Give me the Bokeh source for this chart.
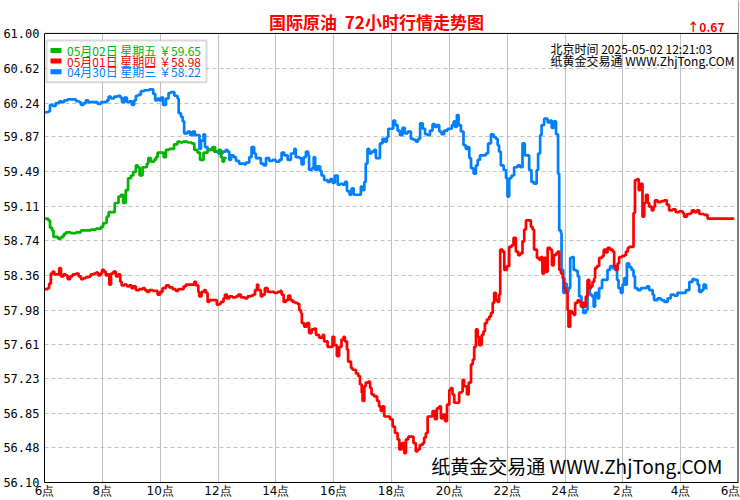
from bokeh.plotting import figure
from bokeh.models import FixedTicker, Label, BoxAnnotation, Range1d, PrintfTickFormatter, Span
from bokeh.embed import file_html
from bokeh.resources import INLINE

# ---------------- data (hours after 06:00, price) ----------------
green_t = [0.00,0.13,0.19,0.26,0.31,0.39,0.47,0.57,0.66,0.74,0.91,1.09,1.26,1.43,1.60,1.78,1.95,2.03,2.15,2.22,
           2.30,2.43,2.56,2.64,2.72,2.81,2.89,2.99,3.07,3.16,3.22,3.29,3.39,3.54,3.59,3.68,3.79,3.85,3.91,4.02,
           4.12,4.20,4.31,4.40,4.48,4.60,4.69,4.78,4.95,5.09,5.18,5.29,5.38,5.50,5.64,5.81,5.90,6.02,6.10,6.16,
           6.21,6.27]
green_p = [58.98,58.96,58.88,58.85,58.78,58.78,58.76,58.78,58.81,58.83,58.82,58.83,58.85,58.85,58.86,58.87,58.89,58.93,59.00,59.05,
           59.05,59.15,59.22,59.24,59.15,59.29,59.42,59.45,59.49,59.56,59.54,59.45,59.54,59.58,59.64,59.60,59.62,59.65,59.70,59.70,
           59.65,59.73,59.74,59.74,59.79,59.82,59.81,59.82,59.81,59.80,59.73,59.70,59.62,59.70,59.73,59.76,59.71,59.73,59.65,59.60,
           59.64,59.65]

red_t = [0.00,0.11,0.16,0.22,0.28,0.34,0.43,0.51,0.57,0.66,
         0.74,0.80,0.89,0.97,1.09,1.18,1.26,1.35,1.43,1.55,
         1.60,1.70,1.78,1.86,1.93,1.99,2.06,2.12,2.18,2.24,
         2.30,2.38,2.47,2.55,2.62,2.67,2.76,2.85,2.93,3.01,
         3.08,3.16,3.27,3.39,3.47,3.54,3.62,3.74,3.82,3.91,
         4.00,4.08,4.20,4.31,4.43,4.54,4.62,4.72,4.81,4.89,
         5.00,5.12,5.18,5.24,5.32,5.35,5.43,5.52,5.58,5.64,
         5.70,5.81,5.93,5.96,6.04,6.10,6.19,6.24,6.31,6.39,
         6.50,6.62,6.70,6.79,6.93,7.02,7.14,7.22,7.28,7.35,
         7.39,7.48,7.54,7.62,7.72,7.83,7.94,8.06,8.15,8.20,
         8.27,8.35,8.43,8.50,8.58,8.66,8.75,8.81,8.87,8.90,
         8.98,9.07,9.15,9.24,9.33,9.39,9.50,9.62,9.67,9.79,
         9.88,9.96,10.02,10.11,10.19,10.27,10.34,10.39,10.46,10.50,
         10.60,10.65,10.77,10.85,10.91,10.97,11.00,11.06,11.11,11.19,
         11.26,11.31,11.40,11.50,11.57,11.63,11.69,11.75,11.87,11.95,
         12.04,12.12,12.21,12.27,12.35,12.44,12.50,12.58,12.67,12.76,
         12.84,12.90,12.98,13.08,13.13,13.19,13.25,13.34,13.42,13.50,
         13.57,13.65,13.71,13.78,13.85,13.92,14.00,14.05,14.11,14.17,
         14.26,14.34,14.42,14.46,14.51,14.61,14.67,14.75,14.81,14.86,
         14.92,14.98,15.03,15.12,15.18,15.23,15.30,15.38,15.44,15.50,
         15.55,15.61,15.67,15.72,15.76,15.84,15.90,15.99,16.07,16.15,
         16.22,16.30,16.38,16.45,16.53,16.59,16.65,16.73,16.82,16.88,
         16.93,17.03,17.11,17.17,17.22,17.28,17.34,17.40,17.49,17.55,
         17.61,17.69,17.75,17.80,17.86,17.92,17.97,18.03,18.09,18.12,
         18.18,18.24,18.30,18.35,18.44,18.49,18.55,18.61,18.66,18.72,
         18.78,18.84,18.90,18.95,19.01,19.04,19.10,19.18,19.28,19.34,
         19.41,19.47,19.56,19.65,19.70,19.76,19.82,19.87,19.96,20.05,
         20.11,20.17,20.22,20.34,20.37,20.42,20.49,20.55,20.60,20.68,
         20.74,20.80,20.86,20.91,21.00,21.06,21.11,21.20,21.32,21.43,
         21.52,21.60,21.72,21.83,21.95,22.07,22.12,22.22,22.33,22.39,
         22.47,22.56,22.64,22.81,22.93,23.85]
red_p = [58.21,58.22,58.27,58.38,58.40,58.37,58.37,58.44,58.35,58.37,
         58.36,58.32,58.35,58.37,58.38,58.35,58.32,58.33,58.34,58.35,
         58.37,58.38,58.39,58.36,58.38,58.42,58.40,58.36,58.37,58.26,
         58.38,58.40,58.35,58.37,58.29,58.25,58.26,58.24,58.25,58.22,
         58.24,58.20,58.21,58.22,58.20,58.18,58.20,58.19,58.19,58.15,
         58.18,58.22,58.25,58.23,58.21,58.19,58.21,58.21,58.24,58.26,
         58.26,58.26,58.29,58.25,58.18,58.13,58.18,58.20,58.17,58.07,
         58.09,58.09,58.09,58.04,58.05,58.07,58.11,58.15,58.11,58.13,
         58.12,58.13,58.15,58.12,58.11,58.13,58.14,58.15,58.20,58.26,
         58.20,58.13,58.15,58.22,58.18,58.18,58.17,58.18,58.19,58.15,
         58.07,58.09,58.14,58.09,58.07,58.06,58.05,57.98,57.95,57.84,
         57.80,57.84,57.73,57.77,57.78,57.71,57.68,57.71,57.64,57.58,
         57.58,57.69,57.60,57.48,57.58,57.66,57.69,57.64,57.55,57.42,
         57.35,57.33,57.29,57.26,57.17,57.08,56.99,57.15,57.19,57.20,
         57.13,57.06,57.04,56.99,56.93,56.88,56.93,56.82,56.82,56.79,
         56.71,56.64,56.57,56.46,56.53,56.42,56.57,56.60,56.60,56.53,
         56.44,56.46,56.51,56.53,56.59,56.64,56.82,56.82,56.88,56.79,
         56.91,56.93,56.80,56.84,56.77,56.95,57.11,57.13,57.06,56.97,
         56.97,57.08,57.09,57.22,57.15,57.06,57.19,57.39,57.44,57.58,
         57.77,57.69,57.60,57.71,57.75,57.84,57.88,57.91,57.95,58.06,
         58.17,58.09,58.07,58.15,58.64,58.62,58.42,58.46,58.67,58.69,
         58.77,58.62,58.58,58.60,58.73,58.86,58.96,58.96,58.89,58.86,
         58.64,58.55,58.53,58.56,58.38,58.55,58.40,58.66,58.64,58.47,
         58.58,58.60,58.62,58.42,58.38,58.33,58.22,58.17,57.98,57.80,
         57.97,57.95,57.93,58.06,58.09,58.07,58.02,58.06,58.02,58.13,
         58.31,58.22,58.24,58.29,58.33,58.44,58.46,58.55,58.57,58.64,
         58.61,58.66,58.64,58.62,58.46,58.42,58.49,58.56,58.57,58.58,
         58.62,58.66,58.67,58.67,59.04,59.40,59.41,59.29,59.36,59.00,
         59.15,59.24,59.15,59.11,59.07,59.11,59.18,59.16,59.17,59.18,
         59.13,59.07,59.08,59.05,59.06,59.04,59.00,59.03,59.04,59.07,
         59.05,59.07,59.03,59.02,58.98,58.98]

blue_t = [0.00,0.13,0.19,0.28,0.39,0.51,0.59,0.68,0.80,0.97,
          1.09,1.20,1.26,1.35,1.43,1.51,1.66,1.84,1.95,2.06,
          2.16,2.22,2.30,2.41,2.53,2.62,2.68,2.76,2.85,2.93,
          3.02,3.10,3.16,3.24,3.33,3.45,3.57,3.62,3.70,3.76,
          3.83,3.91,3.97,4.03,4.10,4.20,4.29,4.37,4.49,4.54,
          4.60,4.64,4.72,4.78,4.83,4.95,5.04,5.12,5.20,5.29,
          5.36,5.41,5.50,5.55,5.64,5.75,5.87,6.01,6.16,6.27,
          6.33,6.39,6.45,6.54,6.62,6.73,6.91,6.96,7.08,7.16,
          7.25,7.31,7.42,7.48,7.58,7.66,7.77,7.89,8.00,8.12,
          8.20,8.29,8.41,8.52,8.64,8.69,8.81,8.89,8.96,9.04,
          9.12,9.15,9.25,9.31,9.36,9.44,9.53,9.58,9.67,9.79,
          9.88,9.96,10.04,10.14,10.23,10.31,10.39,10.46,10.55,10.62,
          10.69,10.77,10.88,10.94,11.00,11.06,11.11,11.17,11.23,11.31,
          11.40,11.46,11.52,11.60,11.69,11.77,11.84,11.89,11.98,12.06,
          12.13,12.21,12.29,12.38,12.46,12.56,12.67,12.76,12.84,12.92,
          12.99,13.08,13.16,13.25,13.33,13.42,13.50,13.57,13.65,13.73,
          13.82,13.94,14.03,14.09,14.15,14.20,14.26,14.32,14.40,14.49,
          14.57,14.63,14.69,14.75,14.84,14.92,14.98,15.06,15.15,15.26,
          15.34,15.44,15.53,15.61,15.67,15.72,15.78,15.88,15.96,16.01,
          16.07,16.15,16.24,16.36,16.45,16.53,16.61,16.71,16.76,16.84,
          16.93,17.02,17.07,17.14,17.19,17.28,17.40,17.48,17.54,17.61,
          17.69,17.76,17.80,17.86,17.88,17.94,17.99,18.06,18.12,18.18,
          18.24,18.30,18.38,18.44,18.49,18.57,18.63,18.72,18.78,18.86,
          18.93,18.99,19.04,19.13,19.18,19.28,19.39,19.47,19.56,19.65,
          19.73,19.80,19.85,19.93,19.99,20.05,20.11,20.14,20.22,20.30,
          20.37,20.42,20.51,20.62,20.74,20.83,20.91,21.03,21.08,21.20,
          21.32,21.43,21.55,21.66,21.78,21.89,22.07,22.18,22.30,22.41,
          22.49,22.59,22.64,22.72,22.79,22.87,22.93]
blue_p = [60.14,60.15,60.22,60.21,60.24,60.26,60.25,60.27,60.28,60.28,
          60.26,60.25,60.22,60.24,60.27,60.25,60.25,60.23,60.25,60.25,
          60.27,60.31,60.29,60.31,60.32,60.30,60.25,60.30,60.25,60.26,
          60.22,60.27,60.32,60.33,60.37,60.38,60.38,60.39,60.39,60.34,
          60.27,60.29,60.27,60.30,60.22,60.29,60.35,60.36,60.32,60.32,
          60.29,60.13,60.09,60.04,59.91,59.93,59.89,59.93,59.89,59.89,
          59.74,59.83,59.90,59.76,59.73,59.74,59.71,59.69,59.71,59.73,
          59.71,59.62,59.67,59.65,59.61,59.58,59.57,59.59,59.65,59.76,
          59.69,59.64,59.64,59.58,59.56,59.64,59.61,59.62,59.60,59.62,
          59.70,59.67,59.62,59.69,59.74,59.65,59.64,59.57,59.65,59.71,
          59.67,59.51,59.53,59.65,59.51,59.55,59.50,59.45,59.40,59.38,
          59.41,59.37,59.45,59.35,59.36,59.35,59.38,59.28,59.24,59.31,
          59.24,59.24,59.24,59.33,59.29,59.38,59.58,59.74,59.69,59.71,
          59.73,59.64,59.64,59.80,59.85,59.82,59.87,59.96,59.96,60.05,
          60.00,59.94,59.89,59.97,59.91,59.93,59.85,59.84,59.82,59.85,
          60.02,59.96,59.90,59.89,59.94,60.01,59.98,60.00,59.93,59.90,
          59.94,59.96,59.96,60.00,60.04,59.98,60.11,60.00,59.93,59.78,
          59.74,59.76,59.64,59.53,59.47,59.56,59.62,59.67,59.67,59.69,
          59.80,59.90,59.87,59.85,59.78,59.71,59.56,59.51,59.42,59.22,
          59.42,59.45,59.54,59.56,59.54,59.80,59.67,59.67,59.51,59.38,
          59.36,59.51,59.69,59.89,60.00,60.07,60.03,60.05,59.97,60.04,
          59.90,59.47,58.85,58.82,58.42,58.17,58.27,58.18,58.22,58.55,
          58.56,58.42,58.41,58.35,58.13,58.06,57.95,57.98,58.26,58.15,
          58.13,58.02,58.17,58.11,58.22,58.31,58.31,58.42,58.46,58.44,
          58.42,58.31,58.22,58.17,58.26,58.33,58.26,58.49,58.45,58.42,
          58.35,58.22,58.20,58.22,58.22,58.24,58.20,58.15,58.09,58.11,
          58.09,58.07,58.11,58.15,58.14,58.17,58.17,58.20,58.29,58.32,
          58.31,58.26,58.18,58.20,58.26,58.22,58.22]

y_ticks = [56.10, 56.48, 56.85, 57.23, 57.61, 57.98, 58.36, 58.74, 59.11, 59.49, 59.87, 60.24, 60.62, 61.00]
x_ticks = [0, 2, 4, 6, 8, 10, 12, 14, 16, 18, 20, 22, 24]
x_tick_labels = ["6点", "8点", "10点", "12点", "14点", "16点", "18点", "20点", "22点", "24点", "2点", "4点", "6点"]

legend_rows = [
    ("05月02日 星期五 ￥59.65", "#00b400"),
    ("05月01日 星期四 ￥58.98", "#ff0000"),
    ("04月30日 星期三 ￥58.22", "#0080ff"),
]
title_text = "国际原油 \u00a072小时行情走势图"
change_text = "↑0.67"
time_text = "北京时间 2025-05-02 12:21:03"
site_text = "纸黄金交易通 WWW.ZhjTong.COM"

# ---------------- figure geometry ----------------
W, H = 740, 500
ML, MR, MT, MB = 44, 2, 0, 17
PLOT_TOP_PX = 33                      # where the value 61.00 sits (canvas px)
FRAME_H = H - MT - MB
y_lo, y_hi = y_ticks[0], y_ticks[-1]
y_ext = y_hi + PLOT_TOP_PX * (y_hi - y_lo) / (FRAME_H - PLOT_TOP_PX)   # headroom for the title row

p = figure(width=W, height=H, output_backend="svg", toolbar_location=None,
           x_range=Range1d(x_ticks[0], x_ticks[-1]), y_range=Range1d(y_lo, y_ext),
           min_border_left=ML, min_border_right=MR, min_border_top=MT, min_border_bottom=MB,
           background_fill_color="white", border_fill_color="white")
p.outline_line_color = None

p.yaxis.ticker = FixedTicker(ticks=y_ticks)
p.yaxis.formatter = PrintfTickFormatter(format="%.2f")
p.yaxis.bounds = (y_lo, y_hi)
p.xaxis.ticker = FixedTicker(ticks=x_ticks)
p.xaxis.major_label_overrides = {t: s for t, s in zip(x_ticks, x_tick_labels)}
for ax in (p.xaxis, p.yaxis):
    ax.axis_line_color = "black"
    ax.axis_line_width = 1
    ax.major_tick_line_color = None
    ax.minor_tick_line_color = None
    ax.major_tick_out = 0
    ax.major_tick_in = 0
    ax.minor_tick_out = 0
    ax.major_label_text_color = "black"
p.yaxis.major_label_text_font = "DejaVu Sans Mono"
p.yaxis.major_label_text_font_size = "12px"
p.yaxis.major_label_standoff = 5
p.xaxis.major_label_text_font = "DejaVu Sans"
p.xaxis.major_label_text_font_size = "12px"
p.xaxis.major_label_standoff = 1

p.xgrid.grid_line_color = "#c0c0c0"
p.ygrid.grid_line_color = "#c0c0c0"
p.ygrid.grid_line_dash = "4 3"

n = min(len(blue_t), len(blue_p))
p.step(blue_t[:n], blue_p[:n], mode="after", line_color="#0080ff", line_width=2.7)
n = min(len(red_t), len(red_p))
p.step(red_t[:n], red_p[:n], mode="after", line_color="#ff0000", line_width=2.7)
n = min(len(green_t), len(green_p))
p.step(green_t[:n], green_p[:n], mode="after", line_color="#00b400", line_width=2.7)

# ---------- borders of the price area ----------
p.add_layout(Span(location=x_ticks[-1], dimension="height", line_color="black", line_width=2))
p.add_layout(BoxAnnotation(bottom=y_hi, fill_color="white", fill_alpha=1, line_color=None))
p.add_layout(Span(location=y_hi, dimension="width", line_color="black", line_width=1))

# ---------- annotation placement helpers (canvas pixels -> data) ----------
FL, FR = ML, W - MR
def hx(px):
    return x_ticks[0] + (px - FL) / (FR - FL) * (x_ticks[-1] - x_ticks[0])
def vy(py):
    return y_ext - (py - MT) / FRAME_H * (y_ext - y_lo)

cjk = "Noto Sans CJK SC"
p.add_layout(Label(x=hx(376), y=vy(21), text=title_text, text_color="#ff0000",
                   text_font=cjk, text_font_size="17px", text_font_style="bold",
                   text_align="center", text_baseline="middle"))
p.add_layout(Label(x=hx(724), y=vy(26), text=change_text, text_color="#ff0000",
                   text_font=cjk, text_font_size="12px", text_font_style="bold",
                   text_align="right", text_baseline="middle"))

p.add_layout(BoxAnnotation(left=hx(46), right=hx(206), top=vy(40), bottom=vy(82),
                           fill_color="white", fill_alpha=1, line_color="#808080", line_width=2))
row_y = [50, 60.7, 71.3]
for (txt, col), ry in zip(legend_rows, row_y):
    p.add_layout(BoxAnnotation(left=hx(50), right=hx(61), top=vy(ry - 2.5), bottom=vy(ry + 2.5),
                               fill_color=col, fill_alpha=1, line_color=None))
    p.add_layout(Label(x=hx(66.5), y=vy(ry), text=txt, text_color=col, text_font=cjk,
                       text_font_size="12px", text_baseline="middle"))

p.add_layout(Label(x=hx(550), y=vy(48.5), text=time_text, text_color="black", text_font=cjk,
                   text_font_size="12px", text_baseline="middle"))
p.add_layout(Label(x=hx(550), y=vy(60.5), text=site_text, text_color="black", text_font=cjk,
                   text_font_size="12px", text_baseline="middle"))
p.add_layout(Label(x=hx(722), y=vy(466), text=site_text, text_color="black", text_font=cjk,
                   text_font_size="19px", text_align="right", text_baseline="middle"))

open("out.html", "w").write(file_html(p, INLINE))
